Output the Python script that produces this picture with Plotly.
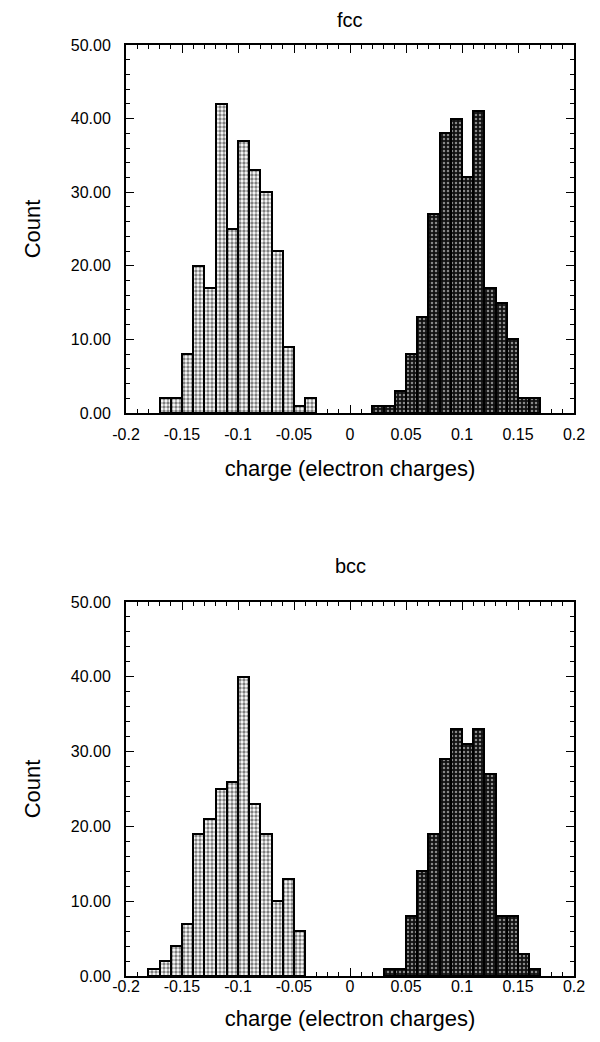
import plotly.graph_objects as go

# ---- data (bin centres, counts) ----
fcc_neg_charge = [-0.165, -0.155, -0.145, -0.135, -0.125, -0.115, -0.105, -0.095,
                  -0.085, -0.075, -0.065, -0.055, -0.045, -0.035]
fcc_neg_count = [2, 2, 8, 20, 17, 42, 25, 37, 33, 30, 22, 9, 1, 2]

fcc_pos_charge = [0.025, 0.035, 0.045, 0.055, 0.065, 0.075, 0.085, 0.095,
                  0.105, 0.115, 0.125, 0.135, 0.145, 0.155, 0.165]
fcc_pos_count = [1, 1, 3, 8, 13, 27, 38, 40, 32, 41, 17, 15, 10, 2, 2]

bcc_neg_charge = [-0.175, -0.165, -0.155, -0.145, -0.135, -0.125, -0.115, -0.105,
                  -0.095, -0.085, -0.075, -0.065, -0.055, -0.045]
bcc_neg_count = [1, 2, 4, 7, 19, 21, 25, 26, 40, 23, 19, 10, 13, 6]

bcc_pos_charge = [0.035, 0.045, 0.055, 0.065, 0.075, 0.085, 0.095, 0.105,
                  0.115, 0.125, 0.135, 0.145, 0.155, 0.165]
bcc_pos_count = [1, 1, 8, 14, 19, 29, 33, 31, 33, 27, 8, 8, 3, 1]

bin_width = 0.01
x_tickvals = [-0.2, -0.15, -0.1, -0.05, 0, 0.05, 0.1, 0.15, 0.2]
x_ticktext = ["-0.2", "-0.15", "-0.1", "-0.05", "0", "0.05", "0.1", "0.15", "0.2"]
y_tickvals = [0, 10, 20, 30, 40, 50]
y_ticktext = ["0.00", "10.00", "20.00", "30.00", "40.00", "50.00"]

FONT = "Liberation Sans, Arial, sans-serif"

light = dict(color="white", line=dict(color="black", width=2),
             pattern=dict(shape=".", fgcolor="black", bgcolor="white", size=4, solidity=0.55))
dark = dict(color="black", line=dict(color="black", width=2),
            pattern=dict(shape=".", fgcolor="white", bgcolor="#111", size=4, solidity=0.3))

fig = go.Figure()
fig.add_trace(go.Bar(x=fcc_neg_charge, y=fcc_neg_count, width=bin_width, marker=light,
                     xaxis="x", yaxis="y", showlegend=False))
fig.add_trace(go.Bar(x=fcc_pos_charge, y=fcc_pos_count, width=bin_width, marker=dark,
                     xaxis="x", yaxis="y", showlegend=False))
fig.add_trace(go.Bar(x=bcc_neg_charge, y=bcc_neg_count, width=bin_width, marker=light,
                     xaxis="x2", yaxis="y2", showlegend=False))
fig.add_trace(go.Bar(x=bcc_pos_charge, y=bcc_pos_count, width=bin_width, marker=dark,
                     xaxis="x2", yaxis="y2", showlegend=False))

W, H = 600, 1042
xdom = [126 / W, 574 / W]
ydom1 = [1 - 413 / H, 1 - 45 / H]
ydom2 = [1 - 976 / H, 1 - 602 / H]

def xaxis(anchor, dom, label_off, title_off):
    return dict(domain=dom, anchor=anchor, range=[-0.2, 0.2], tickmode="array",
                tickvals=x_tickvals, ticktext=x_ticktext, ticks="inside", ticklen=8,
                tickwidth=1.4, tickcolor="black", showline=True, linecolor="black",
                linewidth=2, mirror="ticks", showgrid=False, zeroline=False, automargin=False,
                ticklabelstandoff=label_off,
                minor=dict(dtick=0.01, tick0=0, ticks="inside", ticklen=4,
                           tickwidth=1.2, tickcolor="black", showgrid=False),
                tickfont=dict(family=FONT, size=16, color="black"),
                title=dict(text="charge (electron charges)", standoff=title_off,
                           font=dict(family=FONT, size=22, color="black")))

def yaxis(anchor, dom):
    return dict(domain=dom, anchor=anchor, range=[0, 50], tickmode="array",
                tickvals=y_tickvals, ticktext=y_ticktext, ticks="inside", ticklen=8,
                tickwidth=1.4, tickcolor="black", showline=True, linecolor="black",
                linewidth=2, mirror="ticks", showgrid=False, zeroline=False, automargin=False,
                ticklabelstandoff=10,
                minor=dict(dtick=2, tick0=0, ticks="inside", ticklen=4,
                           tickwidth=1.2, tickcolor="black", showgrid=False),
                tickfont=dict(family=FONT, size=16, color="black"),
                title=dict(text="Count", standoff=24,
                           font=dict(family=FONT, size=22, color="black")))

fig.update_layout(
    width=W, height=H, margin=dict(l=0, r=0, t=0, b=0, autoexpand=False),
    paper_bgcolor="white", plot_bgcolor="white", bargap=0,
    xaxis=xaxis("y", xdom, 6, 18), yaxis=yaxis("x", ydom1),
    xaxis2=xaxis("y2", xdom, -5, 16), yaxis2=yaxis("x2", ydom2),
    annotations=[
        dict(text="fcc", x=0.5 * (xdom[0] + xdom[1]), y=1 - 20 / H, xref="paper", yref="paper",
             yanchor="middle", showarrow=False, font=dict(family=FONT, size=20, color="black")),
        dict(text="bcc", x=0.5 * (xdom[0] + xdom[1]), y=1 - 566 / H, xref="paper", yref="paper",
             yanchor="middle", showarrow=False, font=dict(family=FONT, size=20, color="black")),
    ],
)

fig.write_html("out.html")
